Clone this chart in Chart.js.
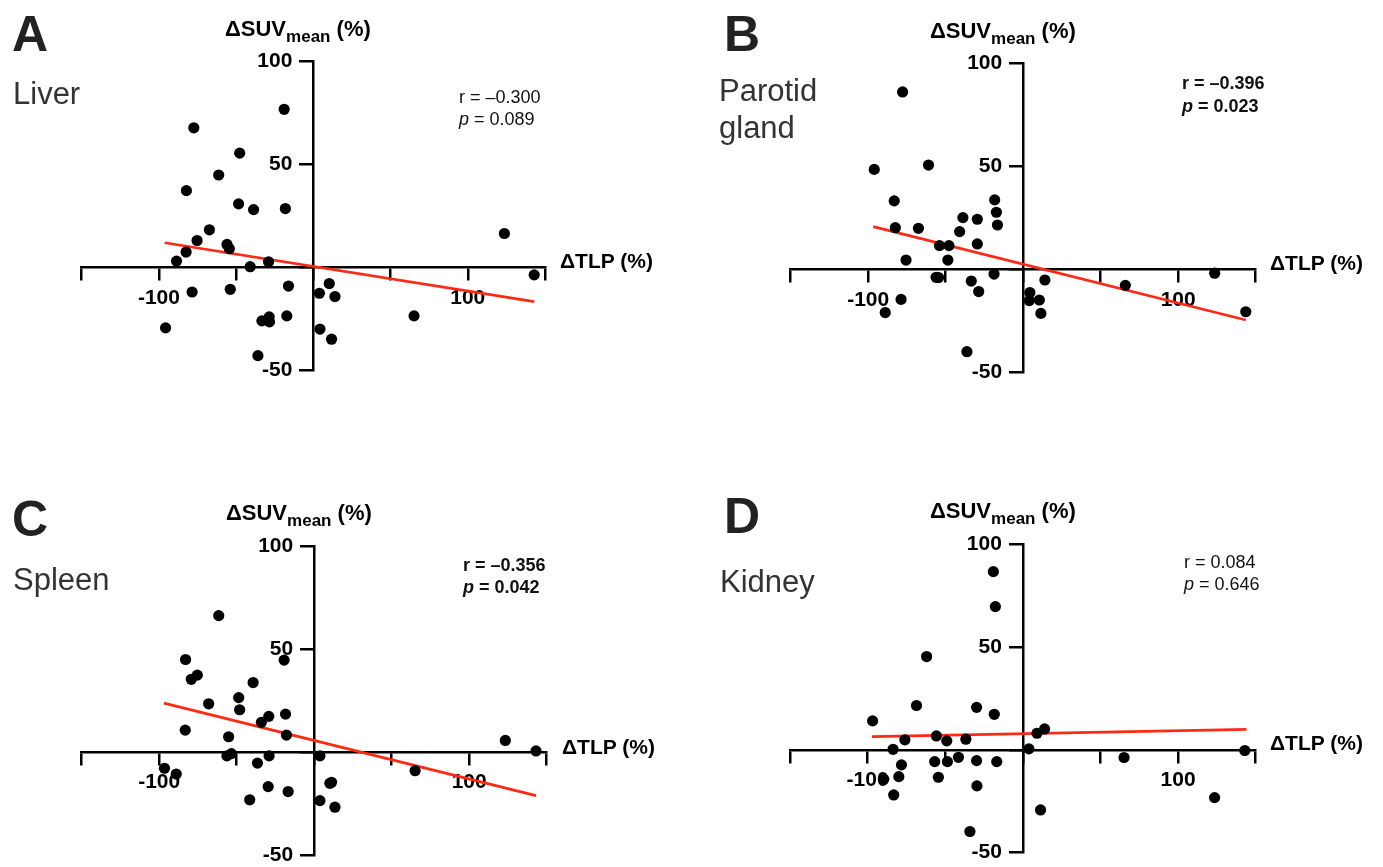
<!DOCTYPE html>
<html>
<head>
<meta charset="utf-8">
<script src="https://cdn.jsdelivr.net/npm/chart.js@4.4.1/dist/chart.umd.min.js"></script>
<style>
  html, body { margin:0; padding:0; background:#fff; }
  body { width:1383px; height:867px; position:relative; overflow:hidden; font-family:"Liberation Sans", Arial, sans-serif; }
  canvas { position:absolute; }
  .t { position:absolute; white-space:nowrap; line-height:1; }
  .t sub { font-size:17px; vertical-align:-6px; line-height:1; }
</style>
</head>
<body>
<canvas id="cA" width="690" height="430" style="left:0;top:0"></canvas>
<canvas id="cB" width="693" height="430" style="left:690px;top:0"></canvas>
<canvas id="cC" width="690" height="460" style="left:0;top:430px"></canvas>
<canvas id="cD" width="693" height="460" style="left:690px;top:430px"></canvas>
<div id="labels"></div>
<script>
// ---------------- data ----------------
// Panel A: Liver
const liverTLP = [-18.9,-77.4,-47.7,-61.3,-82.2,-48.4,-38.7,-18.1,-67.3,-75.3,-55.9,-54.4,-82.4,-88.6,-40.9,-29.0,123.7,143.0,-16.1,10.3,3.9,14.0,-78.5,-53.8,-95.7,-33.3,-28.6,-28.4,-17.2,4.3,11.8,-35.9,65.2];
const liverSUV = [76.9,67.9,55.6,45.0,37.4,31.0,28.2,28.7,18.4,13.2,11.3,9.2,7.6,3.2,0.5,2.9,16.6,-3.5,-8.9,-7.7,-12.4,-14.0,-11.8,-10.5,-29.2,-25.8,-23.9,-26.3,-23.4,-29.8,-34.7,-42.7,-23.4];
const liverFitTLP = [-96.3, 143.0];
const liverFitSUV = [12.1, -16.5];

// Panel B: Parotid gland
const parotidTLP = [-77.8,-96.1,-61.1,-83.2,-82.5,-67.6,-75.6,-38.9,-29.6,-41.0,-18.4,-17.3,-16.6,-54.0,-47.9,-29.6,-48.6,-56.2,-54.6,-18.8,-33.5,-28.7,-78.8,-89.0,-36.3,14.0,4.3,3.9,10.4,11.4,65.9,123.5,143.6];
const parotidSUV = [86.1,48.5,50.6,33.2,20.2,19.9,4.5,25.1,24.3,18.3,33.7,27.7,21.5,11.5,11.5,12.3,4.5,-3.9,-4.0,-2.3,-5.7,-10.8,-14.6,-21.0,-40.0,-5.2,-11.3,-15.2,-14.9,-21.4,-7.8,-1.9,-20.6];
const parotidFitTLP = [-96.8, 143.6];
const parotidFitSUV = [20.7, -24.6];

// Panel C: Spleen
const spleenTLP = [-61.6,-83.0,-19.4,-79.3,-75.4,-39.4,-68.1,-48.7,-48.1,-29.3,-34.1,-18.5,-17.9,-83.2,-55.2,-56.3,-53.4,-29.1,-36.6,3.7,-96.6,-89.0,-29.7,-16.8,-41.6,3.7,13.4,10.1,11.2,65.1,123.3,143.1];
const spleenSUV = [66.2,44.9,44.6,35.3,37.3,33.7,23.4,26.4,20.5,17.3,14.4,18.4,8.2,10.6,7.4,-1.9,-0.8,-1.9,-5.4,-1.9,-7.9,-10.7,-16.8,-19.2,-23.2,-23.6,-26.8,-15.2,-14.7,-9.1,5.6,0.5];
const spleenFitTLP = [-97.0, 143.1];
const spleenFitSUV = [23.7, -21.2];

// Panel D: Kidney
const kidneyTLP = [-19.0,-17.7,-62.0,-68.5,-29.8,-18.4,-96.8,-55.7,-49.0,-36.7,-76.0,-83.6,-56.8,-48.6,-41.5,-29.8,-16.8,-78.2,-79.9,-89.6,-54.4,-29.6,-83.2,-34.1,3.9,9.1,14.0,11.4,65.2,123.5,143.0];
const kidneySUV = [86.7,69.7,45.4,21.6,20.7,17.3,14.1,6.8,4.4,5.2,4.9,0.3,-5.7,-5.7,-3.6,-5.2,-5.7,-7.3,-13.0,-14.3,-13.3,-17.5,-21.9,-39.7,0.5,8.1,10.2,-29.2,-3.7,-23.2,-0.3];
const kidneyFitTLP = [-97.2, 144.0];
const kidneyFitSUV = [6.5, 10.0];

// Tick labels
const xTickValues = [-150,-100,-50,0,50,100,150];
const xTickLabels = {"-100":"-100", "100":"100"};
const yTickValues = [-50,0,50,100];
const yTickLabels = {"-50":"-50", "50":"50", "100":"100"};

// ---------------- chart building ----------------
const zip = (xs, ys) => xs.map((x, i) => ({x, y: ys[i]}));
const FONT = 'Liberation Sans';
const Y_LABEL_GAP = 21; // y tick labels sit left of the tick marks

function shiftYLabels(scale) {
  if (scale._patched) return;
  scale._patched = true;
  const base = Object.getPrototypeOf(scale)._computeLabelItems;
  scale._computeLabelItems = function (area) {
    const items = base.call(this, area);
    items.forEach(it => { if (it.options && it.options.translation) it.options.translation[0] -= Y_LABEL_GAP; });
    return items;
  };
}

function makeChart(id, xs, ys, fx, fy, pad) {
  return new Chart(document.getElementById(id), {
    type: 'scatter',
    data: {
      datasets: [
        { data: zip(xs, ys), backgroundColor: '#000', borderColor: '#000', pointRadius: 5.6, pointHoverRadius: 5.6, pointBorderWidth: 0 },
        { type: 'line', data: zip(fx, fy), borderColor: '#ff2a14', borderWidth: 2.7, pointRadius: 0, fill: false, tension: 0 }
      ]
    },
    options: {
      responsive: false, animation: false, devicePixelRatio: 1, events: [],
      layout: { padding: pad },
      plugins: { legend: { display: false }, tooltip: { enabled: false }, title: { display: false } },
      scales: {
        x: {
          type: 'linear', min: -150, max: 150, position: { y: 0 },
          afterBuildTicks: s => { s.ticks = xTickValues.map(v => ({value: v})); },
          ticks: { autoSkip: false, maxRotation: 0, padding: 6, color: '#000',
                   font: { family: FONT, size: 21, weight: 'bold' },
                   callback: v => xTickLabels[String(v)] || '' },
          grid: { drawOnChartArea: false, drawTicks: true, tickLength: 12, tickWidth: 2.5, tickColor: '#000', lineWidth: 2.5, color: '#000' },
          border: { display: true, color: '#000', width: 2.5 }
        },
        y: {
          type: 'linear', min: -50, max: 100, position: { x: 0 },
          afterBuildTicks: s => { s.ticks = yTickValues.map(v => ({value: v})); shiftYLabels(s); },
          ticks: { autoSkip: false, padding: 8, color: '#000',
                   font: { family: FONT, size: 21, weight: 'bold' },
                   callback: v => yTickLabels[String(v)] || '' },
          grid: { drawOnChartArea: false, drawTicks: true, tickLength: 13, tickWidth: 2.5, tickColor: '#000', lineWidth: 2.5, color: '#000' },
          border: { display: true, color: '#000', width: 2.5 }
        }
      }
    }
  });
}

makeChart('cA', liverTLP, liverSUV, liverFitTLP, liverFitSUV, {left: 81.7, right: 145, top: 61.7, bottom: 59.3});
makeChart('cB', parotidTLP, parotidSUV, parotidFitTLP, parotidFitSUV, {left: 100.7, right: 127.3, top: 63.3, bottom: 57.7});
makeChart('cC', spleenTLP, spleenSUV, spleenFitTLP, spleenFitSUV, {left: 81.7, right: 143.3, top: 116, bottom: 35});
makeChart('cD', kidneyTLP, kidneySUV, kidneyFitTLP, kidneyFitSUV, {left: 100, right: 127.3, top: 114.3, bottom: 37.3});

// ---------------- text ----------------
const holder = document.getElementById('labels');
function txt(html, left, baseline, size, weight, color) {
  const d = document.createElement('div');
  d.className = 't';
  d.innerHTML = html;
  d.style.left = left + 'px';
  d.style.top = (baseline - 0.8465 * size) + 'px';
  d.style.fontSize = size + 'px';
  d.style.fontWeight = weight;
  d.style.color = color;
  holder.appendChild(d);
}
const suvTitle = '&Delta;SUV<sub>mean</sub> (%)';
const tlpTitle = '&Delta;TLP (%)';

// Panel A
txt('A', 12, 51.7, 50, 'bold', '#222');
txt('Liver', 13, 104, 31, 'normal', '#333');
txt(suvTitle, 225, 36.7, 22, 'bold', '#000');
txt(tlpTitle, 560, 268, 21, 'bold', '#000');
txt('r = &ndash;0.300', 459, 103.3, 18, 'normal', '#111');
txt('<i>p</i> = 0.089', 459, 125, 18, 'normal', '#111');

// Panel B
txt('B', 724, 51.7, 50, 'bold', '#222');
txt('Parotid', 719, 101.7, 31, 'normal', '#333');
txt('gland', 719, 138, 31, 'normal', '#333');
txt(suvTitle, 930, 38.3, 22, 'bold', '#000');
txt(tlpTitle, 1270, 269.3, 21, 'bold', '#000');
txt('r = &ndash;0.396', 1182, 89, 18, 'bold', '#111');
txt('<i>p</i> = 0.023', 1182, 112, 18, 'bold', '#111');

// Panel C
txt('C', 12, 536, 50, 'bold', '#222');
txt('Spleen', 13, 590, 31, 'normal', '#333');
txt(suvTitle, 226, 521, 22, 'bold', '#000');
txt(tlpTitle, 562, 754, 21, 'bold', '#000');
txt('r = &ndash;0.356', 463, 571.7, 18, 'bold', '#111');
txt('<i>p</i> = 0.042', 463, 593.3, 18, 'bold', '#111');

// Panel D
txt('D', 724, 533, 50, 'bold', '#222');
txt('Kidney', 720, 592, 31, 'normal', '#333');
txt(suvTitle, 930, 519, 22, 'bold', '#000');
txt(tlpTitle, 1270, 750, 21, 'bold', '#000');
txt('r = 0.084', 1184, 568.3, 18, 'normal', '#111');
txt('<i>p</i> = 0.646', 1184, 590.7, 18, 'normal', '#111');
</script>
</body>
</html>
